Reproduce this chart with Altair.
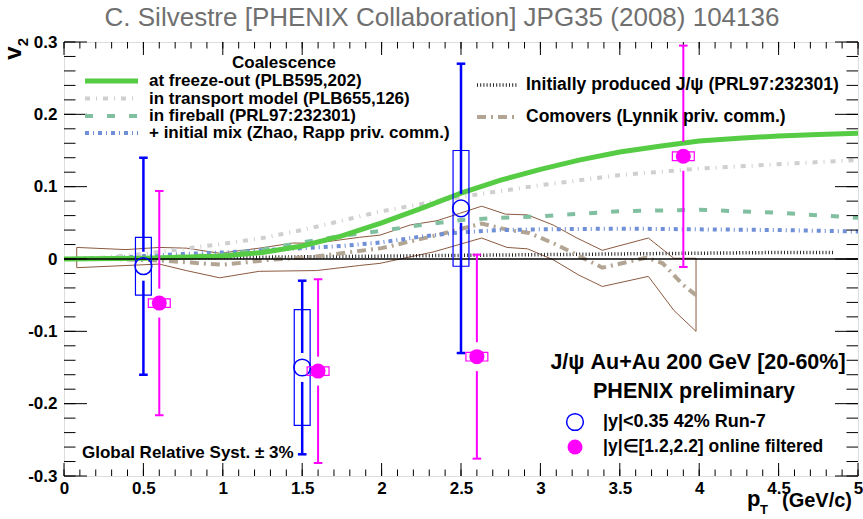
import altair as alt
import numpy as np
import pandas as pd

# ---------------- measured J/psi v2 ----------------
pt_run7 = [0.5, 1.5, 2.5]
v2_run7 = [-0.010, -0.150, 0.070]
stat_run7 = [0.150, 0.120, 0.200]
sys_run7 = [0.040, 0.080, 0.080]

pt_fwd = [0.6, 1.6, 2.6, 3.9]
v2_fwd = [-0.061, -0.155, -0.135, 0.142]
stat_fwd = [0.155, 0.127, 0.141, 0.153]
sys_fwd = [0.006, 0.006, 0.006, 0.006]

# ---------------- model curves ----------------
freeze_pt = [0, 0.5, 1.0, 1.25, 1.5, 1.75, 2.0, 2.25, 2.5, 2.75, 3.0, 3.25, 3.5, 3.75, 4.0, 4.25, 4.5, 4.75, 5.0]
freeze_v2 = [0, 0.001, 0.004, 0.009, 0.018, 0.032, 0.050, 0.070, 0.091, 0.109, 0.124, 0.137, 0.148, 0.156, 0.163, 0.167, 0.170, 0.172, 0.174]

transport_pt = [0, 0.25, 0.5, 0.75, 1.0, 1.25, 1.5, 1.75, 2.0, 2.5, 3.0, 3.5, 4.0, 4.5, 5.0]
transport_v2 = [0, 0.002, 0.007, 0.014, 0.021, 0.029, 0.040, 0.053, 0.066, 0.086, 0.102, 0.116, 0.125, 0.131, 0.137]

fireball_pt = [0, 0.5, 1.0, 1.25, 1.5, 1.75, 2.0, 2.25, 2.5, 2.75, 3.0, 3.5, 4.0, 4.5, 5.0]
fireball_v2 = [0, 0.001, 0.006, 0.013, 0.023, 0.032, 0.039, 0.047, 0.054, 0.057, 0.059, 0.066, 0.068, 0.064, 0.057]

mix_pt = [0, 0.25, 0.5, 0.75, 1.0, 1.25, 1.5, 1.75, 2.0, 2.25, 2.5, 2.75, 3.0, 3.5, 4.0, 4.5, 5.0]
mix_v2 = [0, 0.001, 0.004, 0.007, 0.009, 0.012, 0.015, 0.018, 0.023, 0.031, 0.037, 0.040, 0.041, 0.042, 0.041, 0.040, 0.038]

initial_pt = [0, 0.5, 1.0, 1.5, 2.0, 2.5, 3.0, 3.5, 4.0, 4.5, 4.85]
initial_v2 = [0, 0.001, 0.002, 0.003, 0.004, 0.005, 0.006, 0.007, 0.008, 0.009, 0.009]

comover_pt = [0, 0.3, 0.6, 0.8, 1.0, 1.3, 1.57, 1.82, 2.0, 2.35, 2.63, 2.8, 2.93, 3.1, 3.39, 3.67, 3.77, 3.9, 3.98]
comover_v2 = [0, 0.0, -0.002, -0.005, -0.008, -0.001, 0.003, 0.010, 0.015, 0.033, 0.049, 0.040, 0.036, 0.020, -0.012, 0.002, -0.006, -0.036, -0.050]

# comover uncertainty band edges
band_up_pt = [0.08, 0.39, 0.6, 0.77, 0.98, 1.23, 1.44, 1.59, 1.86, 1.99, 2.18, 2.35, 2.49, 2.63, 2.78, 2.92, 3.08, 3.23, 3.39, 3.68, 3.84, 3.98]
band_up_v2 = [0.016, 0.013, 0.016, 0.015, 0.008, 0.015, 0.022, 0.022, 0.030, 0.033, 0.047, 0.053, 0.063, 0.073, 0.062, 0.061, 0.047, 0.029, 0.012, 0.029, 0.001, 0.001]
band_lo_pt = [0.08, 0.39, 0.6, 0.77, 0.98, 1.23, 1.59, 1.86, 1.99, 2.33, 2.63, 2.79, 2.92, 3.08, 3.24, 3.39, 3.68, 3.84, 3.98]
band_lo_v2 = [-0.012, -0.009, -0.007, -0.016, -0.026, -0.017, -0.016, -0.009, -0.006, 0.010, 0.029, 0.016, 0.014, -0.001, -0.022, -0.038, -0.024, -0.071, -0.100]

# axis tick positions
x_major = [0, 0.5, 1, 1.5, 2, 2.5, 3, 3.5, 4, 4.5, 5]
y_major = [-0.3, -0.2, -0.1, 0, 0.1, 0.2, 0.3]

# ---------------- layout / style ----------------
W, H = 794, 434
FONT = "Liberation Sans"
BLUE = "#0000ff"
MAG = "#ff00ff"

xs = alt.Scale(domain=[0, 5], nice=False, zero=False)
ys = alt.Scale(domain=[-0.3, 0.3], nice=False, zero=False)

x_axis = alt.Axis(values=x_major, ticks=False, domain=False, grid=False, title=None,
                  labelFont=FONT, labelFontSize=17, labelFontWeight="bold", labelColor="black",
                  labelPadding=4, labelFlush=False, labelBound=False, labelOverlap=False,
                  labelExpr="datum.value == floor(datum.value) ? format(datum.value, 'd') : format(datum.value, '.1f')")
y_axis = alt.Axis(values=y_major, ticks=False, domain=False, grid=False, title=None,
                  labelFont=FONT, labelFontSize=17, labelFontWeight="bold", labelColor="black",
                  labelPadding=7, labelFlush=False, labelBound=False, labelOverlap=False,
                  labelExpr="datum.value == 0 ? '0' : replace(format(datum.value, '.1f'), '\u2212', '-')")


def X(field="pt"):
    return alt.X(f"{field}:Q", scale=xs, axis=x_axis)


def Y(field="v2"):
    return alt.Y(f"{field}:Q", scale=ys, axis=y_axis)


def curve(pts, vals, color, width, dash=None):
    df = pd.DataFrame({"pt": pts, "v2": vals, "i": range(len(pts))})
    kw = dict(color=color, strokeWidth=width, clip=True)
    if dash:
        kw["strokeDash"] = dash
    return alt.Chart(df).mark_line(**kw).encode(x=X(), y=Y(), order="i:Q")


def label(txt, px, py, size=17, weight="bold", align="left", color="black", angle=0, baseline="middle"):
    return alt.Chart(pd.DataFrame({"a": [0]})).mark_text(
        text=txt, font=FONT, fontSize=size, fontWeight=weight, align=align,
        baseline=baseline, color=color, angle=angle
    ).encode(x=alt.value(px), y=alt.value(py))


def sample(x0, x1, py, color, width, dash=None):
    kw = dict(color=color, strokeWidth=width)
    if dash:
        kw["strokeDash"] = dash
    return alt.Chart(pd.DataFrame({"a": [0]})).mark_rule(**kw).encode(
        x=alt.value(x0), x2=alt.value(x1), y=alt.value(py))


# ---------------- comover band (closed outline) ----------------
band_pts = band_up_pt + band_lo_pt[::-1] + band_up_pt[:1]
band_vals = band_up_v2 + band_lo_v2[::-1] + band_up_v2[:1]
band = curve(band_pts, band_vals, "#8c5a3f", 1)

layers = [band,
          curve(initial_pt, initial_v2, "#222222", 3.5, [1, 2.2]),
          curve(comover_pt, comover_v2, "#b3a593", 4, [9, 5, 2, 5]),
          curve(mix_pt, mix_v2, "#6f8fd6", 4, [4, 4, 1, 4]),
          curve(fireball_pt, fireball_v2, "#80c0a0", 4, [8, 14]),
          curve(transport_pt, transport_v2, "#cfcfcf", 4, [5, 6, 1, 6]),
          curve(freeze_pt, freeze_v2, "#55cc44", 5)]

# zero line
layers.append(alt.Chart(pd.DataFrame({"v2": [0.0]})).mark_rule(color="black", strokeWidth=1.5)
              .encode(y=Y(), x=alt.value(0), x2=alt.value(W)))

# inward ticks on all four sides
x_minor = [round(v, 2) for v in np.arange(0, 5.001, 0.1)]
y_minor = [round(v, 3) for v in np.arange(-0.3, 0.3001, 0.02)]
for vals, ln in ((x_minor, 6.5), (x_major, 13)):
    d = pd.DataFrame({"pt": vals})
    layers.append(alt.Chart(d).mark_rule(color="black", strokeWidth=1)
                  .encode(x=X(), y=alt.value(H), y2=alt.value(H - ln)))
    layers.append(alt.Chart(d).mark_rule(color="black", strokeWidth=1)
                  .encode(x=X(), y=alt.value(0), y2=alt.value(ln)))
for vals, ln in ((y_minor, 11.5), (y_major, 23)):
    d = pd.DataFrame({"v2": vals})
    layers.append(alt.Chart(d).mark_rule(color="black", strokeWidth=1)
                  .encode(y=Y(), x=alt.value(0), x2=alt.value(ln)))
    layers.append(alt.Chart(d).mark_rule(color="black", strokeWidth=1)
                  .encode(y=Y(), x=alt.value(W), x2=alt.value(W - ln)))

# ---------------- data points ----------------
GAP = 0.02      # error bar is interrupted around the marker
CAP = 0.027     # half width of the error-bar caps


def points(pts, vals, stat, sys, color, box_half, filled, size, bar_w):
    d = pd.DataFrame({"pt": pts, "v2": vals, "stat": stat, "sys": sys})
    d["hi"] = d.v2 + d.stat
    d["lo"] = d.v2 - d.stat
    d["hi_in"] = d.v2 + GAP
    d["lo_in"] = d.v2 - GAP
    d["capl"] = d.pt - CAP
    d["capr"] = d.pt + CAP
    d["bl"] = d.pt - box_half
    d["br"] = d.pt + box_half
    d["st"] = d.v2 + d.sys
    d["sb"] = d.v2 - d.sys
    base = alt.Chart(d)
    out = [
        base.mark_rect(fillOpacity=0, stroke=color, strokeWidth=1.2).encode(
            x=X("bl"), x2="br:Q", y=Y("sb"), y2="st:Q"),
        base.mark_rule(color=color, strokeWidth=bar_w).encode(x=X(), y=Y("hi_in"), y2="hi:Q"),
        base.mark_rule(color=color, strokeWidth=bar_w).encode(x=X(), y=Y("lo"), y2="lo_in:Q"),
        base.mark_rule(color=color, strokeWidth=bar_w).encode(x=X("capl"), x2="capr:Q", y=Y("hi")),
        base.mark_rule(color=color, strokeWidth=bar_w).encode(x=X("capl"), x2="capr:Q", y=Y("lo")),
    ]
    if filled:
        out.append(base.mark_point(shape="circle", filled=True, size=size, color=color, opacity=1)
                   .encode(x=X(), y=Y()))
    else:
        out.append(base.mark_point(shape="circle", filled=False, size=size, color=color,
                                   strokeWidth=1.5, opacity=1).encode(x=X(), y=Y()))
    return out


layers += points(pt_run7, v2_run7, stat_run7, sys_run7, BLUE, 0.05, False, 280, 2.5)
layers += points(pt_fwd, v2_fwd, stat_fwd, sys_fwd, MAG, 0.069, True, 225, 2)

# ---------------- legends and annotations ----------------
layers += [
    label("Coalescence", 168, 21),
    sample(21, 74, 39, "#55cc44", 5),
    label("at freeze-out (PLB595,202)", 85, 39),
    sample(21, 74, 56.5, "#cfcfcf", 4, [5, 6, 1, 6]),
    label("in transport model (PLB655,126)", 85, 56.5),
    sample(21, 74, 74, "#80c0a0", 4, [8, 14]),
    label("in fireball (PRL97:232301)", 85, 74),
    sample(21, 74, 91, "#6f8fd6", 4, [4, 4, 1, 4]),
    label("+ initial mix (Zhao, Rapp priv. comm.)", 85, 91),
    sample(413, 454, 43, "#222222", 3.5, [1, 2.2]),
    label("Initially produced J/\u03c8 (PRL97:232301)", 462, 43, size=17.5),
    sample(413, 454, 75, "#b3a593", 4, [9, 5, 2, 5]),
    label("Comovers (Lynnik priv. comm.)", 462, 75, size=17.5),
    label("J/\u03c8  Au+Au 200 GeV [20-60%]", 634, 321, size=21.5, align="center"),
    label("PHENIX preliminary", 630, 350, size=21.5, align="center"),
    alt.Chart(pd.DataFrame({"a": [0]})).mark_point(shape="circle", filled=False, size=280, color=BLUE,
                                                   strokeWidth=1.5, opacity=1)
    .encode(x=alt.value(511), y=alt.value(380)),
    label("|y|<0.35 42% Run-7", 539, 380, size=18),
    alt.Chart(pd.DataFrame({"a": [0]})).mark_point(shape="circle", filled=True, size=225, color=MAG, opacity=1)
    .encode(x=alt.value(511), y=alt.value(405)),
    label("|y|\u2208[1.2,2.2] online filtered", 539, 405, size=17.5),
    label("Global Relative Syst. \u00b1 3%", 18, 411, size=17),
    # axis titles
    label("v", -50, 11, size=24, angle=270, align="center"),
    label("2", -41, 0, size=15, angle=270, align="center"),
    label("p", 683, 464, size=22, baseline="alphabetic"),
    label("T", 696, 472, size=13, baseline="alphabetic"),
    label("(GeV/c)", 788, 465, size=20, align="right", baseline="alphabetic"),
    # header
    label("C. Silvestre [PHENIX Collaboration] JPG35 (2008) 104136", 378, -24, size=26,
          weight="normal", align="center", color="#707070"),
]

chart = (
    alt.layer(*layers)
    .properties(width=W, height=H, autosize=alt.AutoSizeParams(type="none"),
                padding={"left": 64, "top": 42, "right": 5, "bottom": 43})
    .configure_view(stroke="black", strokeWidth=1.5)
    .configure(background="white")
)

chart.save("out.html", embed_options={"renderer": "svg", "actions": False})
